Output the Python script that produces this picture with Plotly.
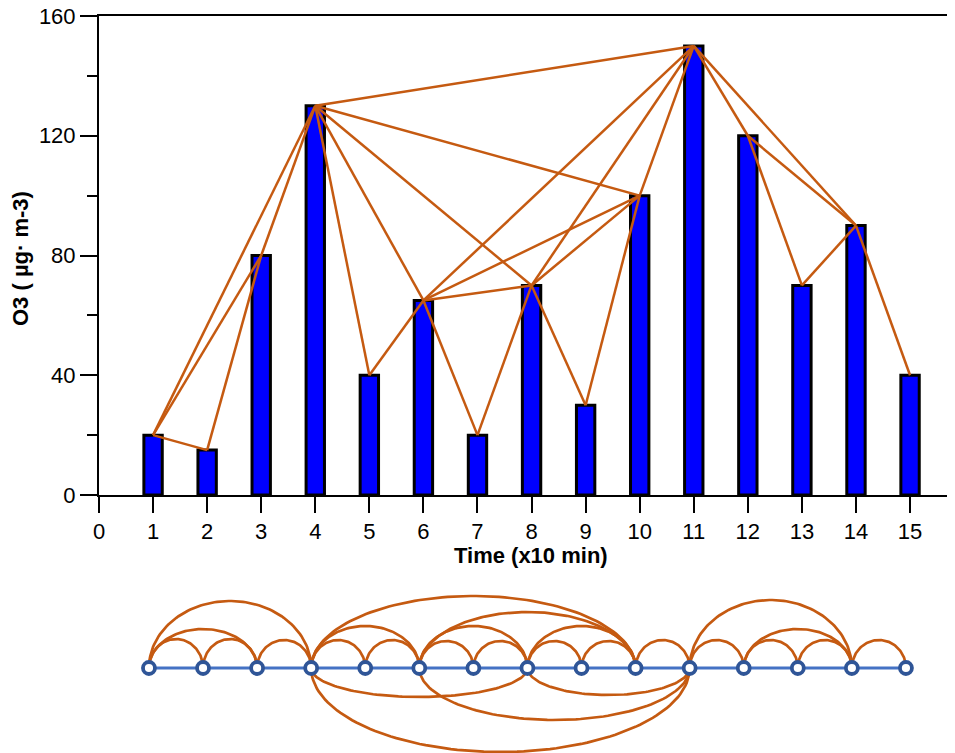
import numpy as np
import plotly.graph_objects as go

# ---------------- data ----------------
time = list(range(1, 16))
o3 = [20, 15, 80, 130, 40, 65, 20, 70, 30, 100, 150, 120, 70, 90, 40]
x_ticks = list(range(0, 16))
y_ticks = [0, 40, 80, 120, 160]
y_minor = [20, 60, 100, 140]

# visibility-graph edges (node indices = time points)
edge_from = [1, 1, 1, 2, 3, 4, 4, 4, 4, 4, 5, 6, 6, 6, 6, 7, 8, 8, 8, 9, 10, 11, 11, 12, 12, 13, 14]
edge_to = [2, 3, 4, 3, 4, 5, 6, 8, 10, 11, 6, 7, 8, 10, 11, 8, 9, 10, 11, 10, 11, 12, 14, 13, 14, 14, 15]
edges_below = [(4, 8), (4, 11), (6, 11), (8, 11)]

# ---------------- styling / layout ----------------
ORANGE = "#C55A11"
FONT = "Liberation Sans, Arial, sans-serif"
PAGE_OFF = 8                      # browser body margin
W, H = 955 - PAGE_OFF, 753 - PAGE_OFF


def px(x):   # screen x pixel -> paper x
    return (x - PAGE_OFF) / W


def py(y):   # screen y pixel -> paper y
    return 1 - (y - PAGE_OFF) / H


PX_PER_UNIT = 54.07
X0 = 99                           # screen x of time 0
x_max = (955 - X0) / PX_PER_UNIT

# arc heights (px) in the arc diagram
arc_h = {(1, 2): 29, (1, 3): 39, (1, 4): 67, (2, 3): 29, (3, 4): 28, (4, 5): 28, (4, 6): 42,
         (4, 8): 29, (4, 10): 72, (4, 11): 84, (5, 6): 28, (6, 7): 27, (6, 8): 42, (6, 10): 56,
         (6, 11): 52, (7, 8): 27, (8, 9): 27, (8, 10): 42, (8, 11): 27, (9, 10): 27, (10, 11): 28,
         (11, 12): 28, (11, 14): 68, (12, 13): 28, (12, 14): 39, (13, 14): 28, (14, 15): 28}

val = dict(zip(time, o3))

fig = go.Figure()

# bars
fig.add_trace(go.Bar(x=time, y=o3, width=0.34,
                     marker=dict(color="#0000FF", line=dict(color="black", width=3)),
                     xaxis="x", yaxis="y"))

# visibility lines
lx, ly = [], []
for a, b in zip(edge_from, edge_to):
    lx += [a, b, None]
    ly += [val[a], val[b], None]
fig.add_trace(go.Scatter(x=lx, y=ly, mode="lines", line=dict(color=ORANGE, width=2.5),
                         xaxis="x", yaxis="y", hoverinfo="skip"))

# arc diagram
ax, ay = [], []
th = np.linspace(0, np.pi, 90)
for a, b in zip(edge_from, edge_to):
    mid = (a + b) / 2
    half = (b - a) / 2
    h = arc_h[(a, b)]
    sgn = -1 if (a, b) in edges_below else 1
    ax += list(mid - half * np.cos(th)) + [None]
    ay += list(sgn * h * np.sin(th)) + [None]
fig.add_trace(go.Scatter(x=ax, y=ay, mode="lines", line=dict(color=ORANGE, width=2.7),
                         xaxis="x2", yaxis="y2", hoverinfo="skip"))
fig.add_trace(go.Scatter(x=time, y=[0] * len(time), mode="lines",
                         line=dict(color="#4472C4", width=3), xaxis="x2", yaxis="y2"))
fig.add_trace(go.Scatter(x=time, y=[0] * len(time), mode="markers",
                         marker=dict(size=12, color="white", line=dict(color="#2F5597", width=3.8)),
                         xaxis="x2", yaxis="y2"))

xd = [px(X0), 1]
NODE_Y = 668
fig.update_layout(
    width=W, height=H, margin=dict(l=0, r=0, t=0, b=0),
    plot_bgcolor="white", paper_bgcolor="white", showlegend=False,
    font=dict(family=FONT, color="black", size=22),
    xaxis=dict(domain=xd, range=[0, x_max], tickmode="array", tickvals=x_ticks,
               ticks="outside", ticklen=16, tickwidth=2, tickcolor="black",
               showline=True, linewidth=2, linecolor="black", mirror=True,
               showgrid=False, zeroline=False, tickfont=dict(size=22), anchor="y",
               automargin=False, ticklabeloverflow="allow"),
    yaxis=dict(domain=[py(495), py(16)], range=[0, 160], tickmode="array",
               tickvals=y_ticks, ticks="outside", ticklen=17, tickwidth=2, tickcolor="black",
               minor=dict(tickvals=y_minor, ticks="outside", ticklen=10, tickwidth=2, tickcolor="black"),
               showline=True, linewidth=2, linecolor="black", showgrid=False, zeroline=False,
               tickfont=dict(size=22), anchor="x", automargin=False, ticklabeloverflow="allow"),
    xaxis2=dict(domain=xd, range=[0.076, x_max + 0.076], visible=False, anchor="y2"),
    yaxis2=dict(domain=[0, py(570)], range=[-(753 - NODE_Y), NODE_Y - 570], visible=False, anchor="x2"),
    annotations=[
        dict(text="<b>Time (x10 min)</b>", x=px(531), y=py(555), xref="paper", yref="paper",
             showarrow=False, xanchor="center", yanchor="middle", font=dict(size=22)),
        dict(text="<b>O3 ( µg· m-3)</b>", x=px(21), y=py(259), xref="paper", yref="paper",
             showarrow=False, xanchor="center", yanchor="middle", textangle=-90, font=dict(size=22)),
    ],
)

fig.write_html("out.html")
